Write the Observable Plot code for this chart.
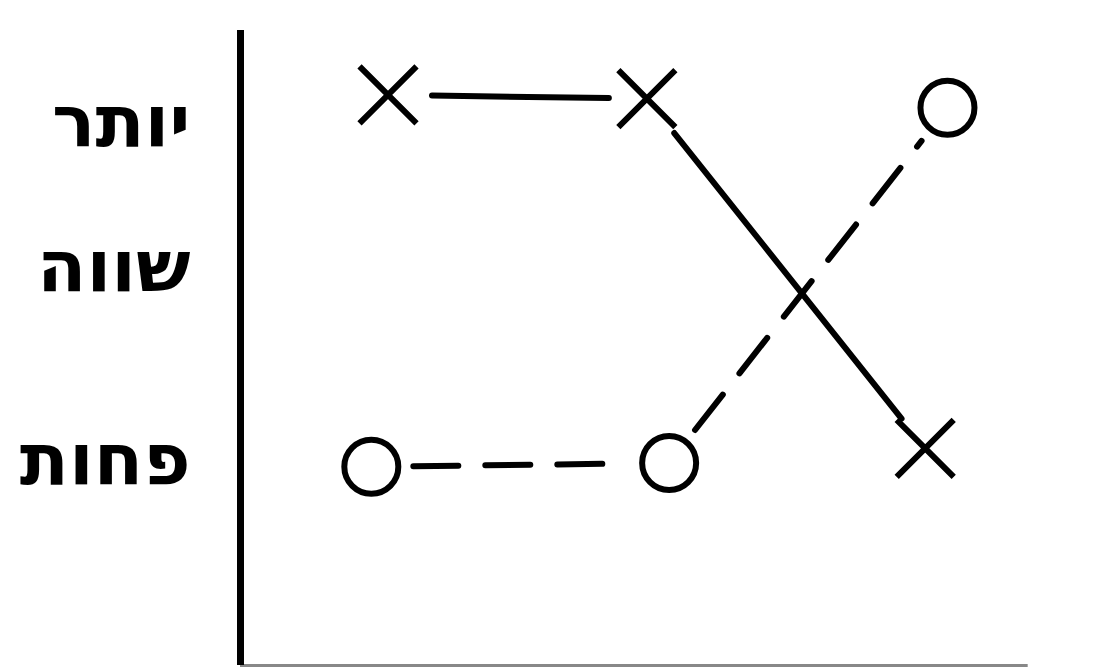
<!DOCTYPE html>
<html>
<head>
<meta charset="utf-8">
<script src="https://cdn.jsdelivr.net/npm/d3@7"></script>
<script src="https://cdn.jsdelivr.net/npm/@observablehq/plot@0.6"></script>
<style>
  html, body { margin: 0; padding: 0; background: #fff; }
  #chart svg { display: block; }
</style>
</head>
<body>
<div id="chart"></div>
<script>
// Series marked with × (solid line)
const crossX = [1.03, 1.96, 2.96];
const crossY = [2.02, 2.0, 0.1];
// Series marked with ○ (dashed line)
const circleX = [0.97, 2.04, 3.04];
const circleY = [0.0, 0.02, 1.95];
// Y-axis tick positions and labels
const tickValues = [1.87, 1.08, 0.03];
const tickLabels = ["יותר", "שווה", "פחות"];

const xDomain = [0.5, 3.5];
const yDomain = [-1.08, 2.37];

const crossPts = crossX.map((x, i) => ({x, y: crossY[i]}));
const circlePts = circleX.map((x, i) => ({x, y: circleY[i]}));
const segs = pts => d3.pairs(pts).map(([a, b]) => ({x1: a.x, y1: a.y, x2: b.x, y2: b.y}));

const labelOf = new Map(tickValues.map((v, i) => [v, tickLabels[i]]));

const chart = Plot.plot({
  width: 1107,
  height: 672,
  marginLeft: 240,
  marginRight: 32,
  marginTop: 30,
  marginBottom: 7,
  style: {background: "#fff", color: "#000"},
  x: {domain: xDomain, axis: null},
  y: {domain: yDomain, axis: null},
  marks: [
    Plot.ruleY([yDomain[0]], {x1: xDomain[0], x2: 3.33, stroke: "#888", strokeWidth: 3}),
    Plot.ruleX([xDomain[0]], {y1: yDomain[0], y2: yDomain[1], stroke: "#000", strokeWidth: 7}),
    Plot.axisY({
      ticks: tickValues,
      tickSize: 0,
      tickPadding: 50,
      tickFormat: d => labelOf.get(d),
      fontSize: 72,
      fontWeight: "bold",
      fontFamily: "DejaVu Sans",
      label: null,
      style: {letterSpacing: "7px"}
    }),
    Plot.arrow(segs(crossPts), {
      x1: "x1", y1: "y1", x2: "x2", y2: "y2",
      headLength: 0, insetStart: 44, insetEnd: 38,
      stroke: "#000", strokeWidth: 6
    }),
    Plot.arrow(segs(circlePts), {
      x1: "x1", y1: "y1", x2: "x2", y2: "y2",
      headLength: 0, insetStart: 42, insetEnd: 42,
      stroke: "#000", strokeWidth: 6, strokeDasharray: "45,27"
    }),
    Plot.dot(crossPts, {x: "x", y: "y", symbol: "times", r: 26, stroke: "#000", strokeWidth: 6}),
    Plot.dot(circlePts, {x: "x", y: "y", symbol: "circle", r: 27, fill: "none", stroke: "#000", strokeWidth: 6})
  ]
});
document.getElementById("chart").appendChild(chart);
</script>
</body>
</html>
